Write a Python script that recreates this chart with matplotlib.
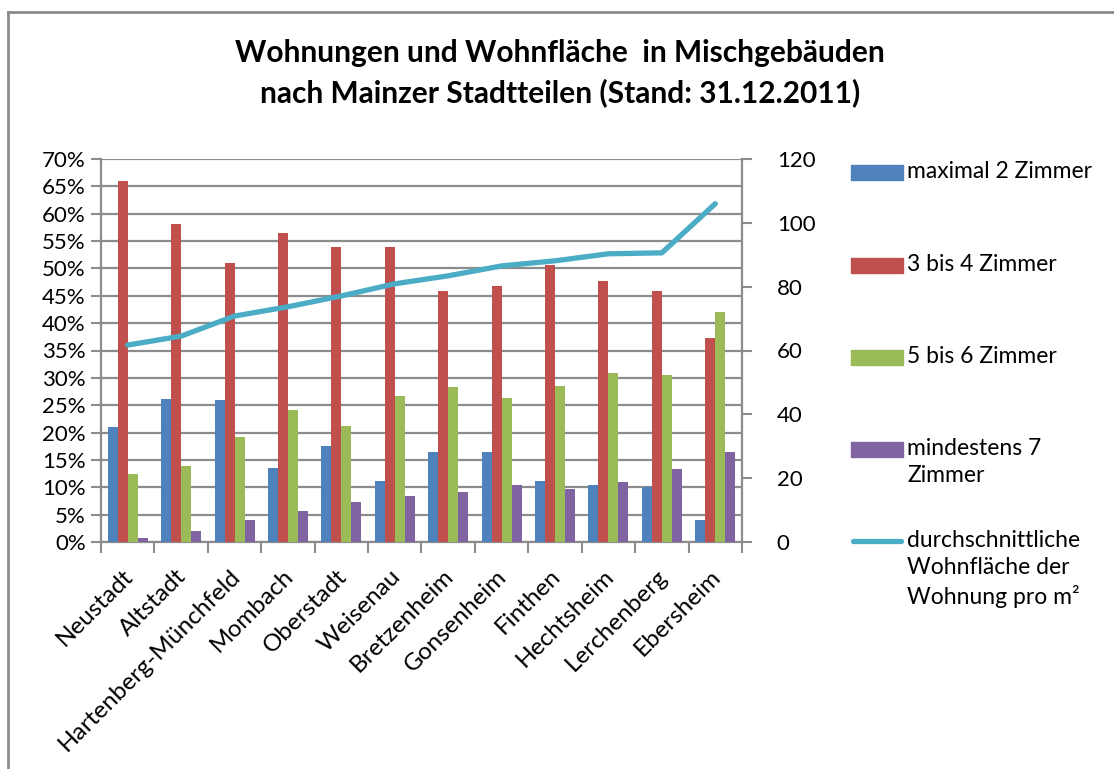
import matplotlib.pyplot as plt
import matplotlib.patches as mpatches
import matplotlib.transforms as mtransforms
from matplotlib.lines import Line2D
import numpy as np

plt.rcParams['font.family'] = ['Lato', 'DejaVu Sans']

# Mainz districts, share of dwellings by number of rooms (%) and avg. living area (m²)
districts = ['Neustadt', 'Altstadt', 'Hartenberg-Münchfeld', 'Mombach', 'Oberstadt',
             'Weisenau', 'Bretzenheim', 'Gonsenheim', 'Finthen', 'Hechtsheim',
             'Lerchenberg', 'Ebersheim']
max2 = [21.0, 26.2, 25.9, 13.6, 17.5, 11.1, 16.5, 16.4, 11.2, 10.5, 10.1, 4.1]
r3_4 = [66.0, 58.1, 51.0, 56.5, 54.0, 54.0, 45.8, 46.7, 50.7, 47.7, 45.9, 37.3]
r5_6 = [12.5, 13.8, 19.2, 24.1, 21.2, 26.6, 28.4, 26.3, 28.5, 30.8, 30.6, 42.1]
min7 = [0.8, 2.0, 4.0, 5.6, 7.4, 8.4, 9.2, 10.5, 9.7, 10.9, 13.4, 16.4]
area = [61.7, 64.5, 70.8, 73.7, 77.1, 80.9, 83.4, 86.5, 88.1, 90.3, 90.6, 106.0]

series = [
    ('maximal 2 Zimmer', max2, '#4F81BD'),
    ('3 bis 4 Zimmer', r3_4, '#C0504D'),
    ('5 bis 6 Zimmer', r5_6, '#9BBB59'),
    ('mindestens 7\nZimmer', min7, '#8064A2'),
]
line_label = 'durchschnittliche\nWohnfläche der\nWohnung pro m²'
C_LINE = '#4BACC6'
C_GRID = '#8C8C8C'

W, H = 1114, 769
fig = plt.figure(figsize=(W / 100, H / 100), dpi=100)
ax = fig.add_axes([101 / W, 1 - 542 / H, 641 / W, 383 / H])
ax2 = ax.twinx()

x = np.arange(len(districts))
w = 0.187
for i, (lab, vals, col) in enumerate(series):
    ax.bar(x + (i - 1.5) * w, vals, width=w, color=col, zorder=3)

ax2.plot(x, area, color=C_LINE, linewidth=3.8, solid_capstyle='round', zorder=4)

ax.set_xlim(-0.5, len(districts) - 0.5)
ax.set_ylim(0, 70)
ax.set_yticks(np.arange(0, 71, 5))
ax.set_yticklabels([f'{v}%' for v in range(0, 71, 5)], fontsize=16)
ax.yaxis.grid(True, color=C_GRID, linewidth=1.6, zorder=0)
ax.set_axisbelow(True)

ax2.set_ylim(0, 120)
ax2.set_yticks(np.arange(0, 121, 20))
ax2.set_yticklabels([str(v) for v in range(0, 121, 20)], fontsize=16)

# category boundary ticks; names drawn as rotated text below each category
ax.set_xticks(np.arange(-0.5, len(districts), 1.0))
ax.set_xticklabels([])
ax.tick_params(axis='x', length=8, width=1.5, color=C_GRID, direction='out')
name_tr = ax.get_xaxis_transform() + mtransforms.ScaledTranslation(0.02, -0.31,
                                                                     fig.dpi_scale_trans)
for xi, name in zip(x, districts):
    ax.text(xi, 0, name, transform=name_tr, rotation=45, ha='right', va='center',
            rotation_mode='anchor', fontsize=17.5, clip_on=False)

ax.tick_params(axis='y', length=7, width=1.5, color=C_GRID, direction='out', pad=4)
ax2.tick_params(axis='y', length=7, width=1.5, color=C_GRID, direction='out', pad=18)

for a in (ax, ax2):
    for s in a.spines.values():
        s.set_visible(False)
for a, side in ((ax, 'left'), (ax, 'bottom'), (ax2, 'right')):
    a.spines[side].set_visible(True)
    a.spines[side].set_color(C_GRID)
    a.spines[side].set_linewidth(1.6)

fig.text(0.503, 1 - 73 / H,
         'Wohnungen und Wohnfläche  in Mischgebäuden\nnach Mainzer Stadtteilen (Stand: 31.12.2011)',
         ha='center', va='center', fontsize=21.5, fontweight='bold', linespacing=1.45)

# legend drawn by hand so that the key sits next to the first label line
legend_rows = [172, 265, 357, 449, 541]
for (lab, _, col), yp in zip(series, legend_rows[:4]):
    fig.add_artist(mpatches.Rectangle((851 / W, 1 - (yp + 7.5) / H), 52 / W, 15 / H,
                                      color=col, transform=fig.transFigure))
    fig.text(907 / W, 1 - (yp - 11) / H, lab, ha='left', va='top', fontsize=16.5,
             linespacing=1.35)
yp = legend_rows[4]
fig.add_artist(Line2D([853 / W, 901 / W], [1 - yp / H, 1 - yp / H], color=C_LINE,
                      linewidth=3.8, solid_capstyle='round', transform=fig.transFigure))
fig.text(907 / W, 1 - (yp - 11) / H, line_label, ha='left', va='top', fontsize=16.5,
         linespacing=1.35)

# chart frame (left and top edges visible)
fig.add_artist(Line2D([8 / W, 8 / W], [0.0, 1 - 12 / H], color=C_GRID, linewidth=2,
                      transform=fig.transFigure))
fig.add_artist(Line2D([8 / W, 1.0], [1 - 12 / H, 1 - 12 / H], color=C_GRID, linewidth=2,
                      transform=fig.transFigure))

fig.savefig('out.png', dpi=100)
